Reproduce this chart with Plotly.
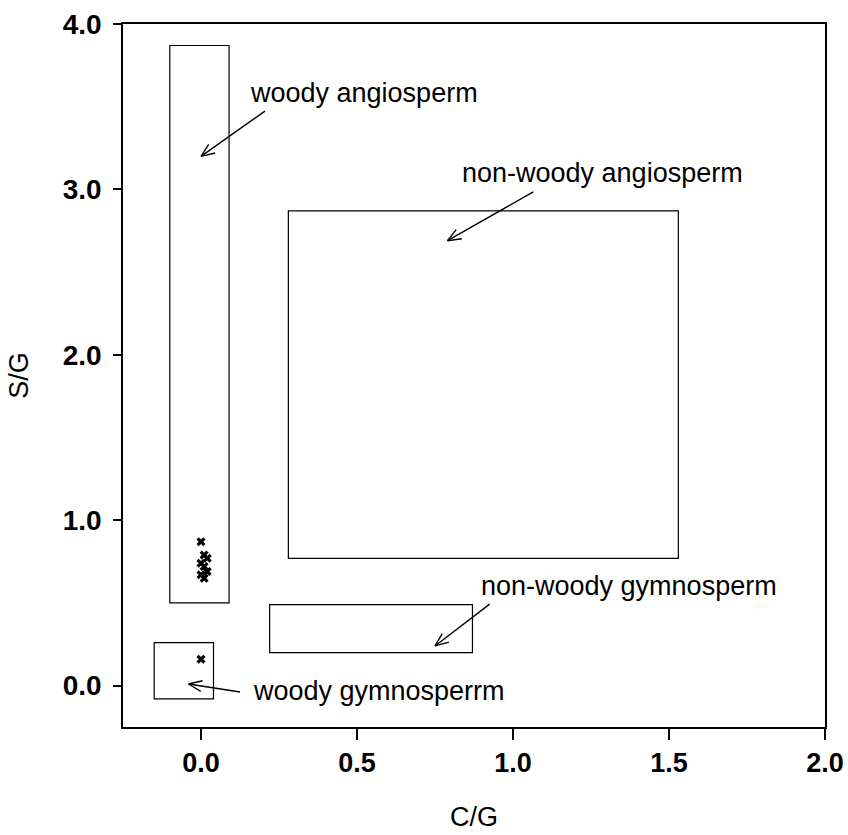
import math
import plotly.graph_objects as go

# rectangles: group name and extents in C/G (x) and S/G (y)
box_names = ["woody angiosperm", "non-woody angiosperm", "non-woody gymnosperm", "woody gymnosperrm"]
box_x0 = [-0.10, 0.28, 0.22, -0.15]
box_x1 = [0.09, 1.53, 0.87, 0.04]
box_y0 = [0.50, 0.77, 0.20, -0.08]
box_y1 = [3.87, 2.87, 0.49, 0.26]

# label positions (left edge / middle of text)
label_x = [0.15, 0.83, 0.89, 0.16]
label_y = [3.58, 3.10, 0.60, -0.03]

# arrows: tail -> head
arrow_tail_x = [0.21, 1.07, 0.93, 0.13]
arrow_tail_y = [3.48, 2.99, 0.50, -0.04]
arrow_head_x = [0.00, 0.79, 0.75, -0.04]
arrow_head_y = [3.20, 2.69, 0.24, 0.01]

# measured points
pt_x = [0.00, 0.01, 0.02, 0.00, 0.01, 0.02, 0.00, 0.01, 0.00]
pt_y = [0.87, 0.79, 0.77, 0.74, 0.72, 0.69, 0.67, 0.65, 0.16]

x_range = [-0.25, 2.0]
y_range = [-0.25, 4.0]
W, H = 848, 835
margin = dict(l=123, r=23, t=24, b=108)

fig = go.Figure()

fig.add_trace(go.Scatter(
    x=pt_x, y=pt_y, mode='markers',
    marker=dict(symbol='x', size=8, color='black'),
    showlegend=False
))

for i in range(len(box_names)):
    fig.add_shape(type='rect', xref='x', yref='y',
                  x0=box_x0[i], x1=box_x1[i], y0=box_y0[i], y1=box_y1[i],
                  line=dict(color='black', width=1.2))

    fig.add_annotation(x=label_x[i], y=label_y[i], text=box_names[i],
                       showarrow=False, xanchor='left', yanchor='middle',
                       font=dict(size=27, color='black', family='Liberation Sans'))

# pixel scale so the open arrowheads come out symmetric
px_x = (W - margin['l'] - margin['r']) / (x_range[1] - x_range[0])
px_y = (H - margin['t'] - margin['b']) / (y_range[1] - y_range[0])

for i in range(len(arrow_tail_x)):
    fig.add_annotation(x=arrow_head_x[i], y=arrow_head_y[i],
                       ax=arrow_tail_x[i], ay=arrow_tail_y[i],
                       axref='x', ayref='y', xref='x', yref='y',
                       text='', showarrow=True, arrowhead=0, arrowwidth=1.4,
                       arrowcolor='black')
    dx = (arrow_tail_x[i] - arrow_head_x[i]) * px_x
    dy = -(arrow_tail_y[i] - arrow_head_y[i]) * px_y
    ang = math.atan2(dy, dx)
    for s in (-1, 1):
        a = ang + s * math.radians(22)
        fig.add_annotation(x=arrow_head_x[i], y=arrow_head_y[i],
                           ax=16 * math.cos(a), ay=16 * math.sin(a),
                           xref='x', yref='y', text='', showarrow=True,
                           arrowhead=0, arrowwidth=1.4, arrowcolor='black')

axis_common = dict(
    showgrid=False, zeroline=False, showline=True, mirror=True, automargin=False,
    linecolor='black', linewidth=1.5, ticks='outside', ticklabeloverflow='allow',
    tickcolor='black', tickwidth=1.5, tickformat='.1f',
)

fig.update_layout(
    width=W, height=H, margin=margin,
    plot_bgcolor='white', paper_bgcolor='white',
    xaxis=dict(range=x_range, tickvals=[0, 0.5, 1.0, 1.5, 2.0], ticklen=11,
               tickfont=dict(size=27, color='black', family='Liberation Sans', weight='bold'),
               title=dict(text='C/G', standoff=30,
                          font=dict(size=27, color='black', family='Liberation Sans')),
               **axis_common),
    yaxis=dict(range=y_range, tickvals=[0, 1, 2, 3, 4], ticklen=8, ticklabelstandoff=6,
               tickfont=dict(size=28, color='black', family='Liberation Sans', weight='bold'),
               title=dict(text='S/G', standoff=26,
                          font=dict(size=27, color='black', family='Liberation Sans')),
               **axis_common),
    showlegend=False,
)

# drop the page's default body margin so the figure fills the window exactly
fig.write_html("out.html", config={'displayModeBar': False},
               post_script="document.body.style.margin='0';")
